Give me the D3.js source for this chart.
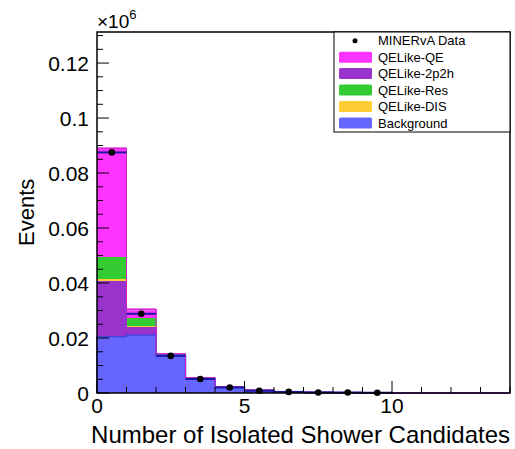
<!DOCTYPE html>
<html><head><meta charset="utf-8">
<script src="https://cdn.jsdelivr.net/npm/d3@7"></script>
<style>body{margin:0;background:#fff}svg{display:block}text{font-family:"Liberation Sans",Arial,sans-serif;fill:#000}</style>
</head><body><svg id="c" width="515" height="449"></svg>
<script>
const binEdges = [0,1,2,3,4,5,6,7,8,9,10,11,12,13,14];
const background = [0.0205,0.0211,0.0138,0.0054,0.0022,0.0010,0.0004,0.0002,0.0001,0.0001,0,0,0,0];
const twoP2h     = [0.0202,0.0030,0.0002,0.0001,0,0,0,0,0,0,0,0,0,0];
const dis        = [0.0008,0.0004,0.0000,0,0,0,0,0,0,0,0,0,0,0];
const res        = [0.0080,0.0029,0.0001,0,0,0,0,0,0,0,0,0,0,0];
const qe         = [0.0395,0.0030,0.0002,0.0001,0.0001,0.0001,0,0,0,0,0,0,0,0];
const dataVals   = [0.0875,0.0288,0.0135,0.0051,0.0020,0.0008,0.0004,0.0002,0.0002,0.0001];
const yTicks = [0,0.02,0.04,0.06,0.08,0.1,0.12];
const xTicks = [0,5,10];
const legendLabels = ["MINERvA Data","QELike-QE","QELike-2p2h","QELike-Res","QELike-DIS","Background"];
const colors = {bg:"#6666ff",p2h:"#9933cc",res:"#33cc33",dis:"#ffcc33",qe:"#ff33ff"};

const L=97,R=510,T=32,B=393;
const svg=d3.select("#c");
const x=d3.scaleLinear().domain([0,14]).range([L,R]);
const y=d3.scaleLinear().domain([0,0.1313]).range([B,T]);

// stacks
const layers=[[background,colors.bg],[twoP2h,colors.p2h],[dis,colors.dis],[res,colors.res],[qe,colors.qe]];
const cum=new Array(14).fill(0);
const g=svg.append("g").attr("shape-rendering","crispEdges");
layers.forEach(([vals,col])=>{
  vals.forEach((v,i)=>{
    if(v<=0) return;
    g.append("rect").attr("x",x(binEdges[i])).attr("width",x(binEdges[i+1])-x(binEdges[i])+0.6)
      .attr("y",y(cum[i]+v)).attr("height",y(cum[i])-y(cum[i]+v)).attr("fill",col);
    cum[i]+=v;
  });
});
// error band at the top of total
cum.forEach((v,i)=>{
  if(v<=0) return;
  g.append("rect").attr("x",x(binEdges[i])).attr("width",x(binEdges[i+1])-x(binEdges[i]))
   .attr("y",y(v+0.0004)).attr("height",y(v-0.0004)-y(v+0.0004)).attr("fill","#f070f0").attr("opacity",0.85);
});
// background outline
let bgPath="M"+x(0)+","+y(0);
background.forEach((v,i)=>{bgPath+="L"+x(binEdges[i])+","+y(v)+"L"+x(binEdges[i+1])+","+y(v);});
svg.append("path").attr("d",bgPath).attr("fill","none").attr("stroke","#4444dd").attr("stroke-width",1.5);
// total outline
let tPath="";
cum.forEach((v,i)=>{tPath+=(i?"L":"M")+x(binEdges[i])+","+y(v)+"L"+x(binEdges[i+1])+","+y(v);});
svg.append("path").attr("d",tPath).attr("fill","none").attr("stroke","#cc22cc").attr("stroke-width",1);

// data
dataVals.forEach((v,i)=>{
  svg.append("line").attr("x1",x(binEdges[i])).attr("x2",x(binEdges[i+1])).attr("y1",y(v)).attr("y2",y(v))
    .attr("stroke","#1a1aa0").attr("stroke-width",2);
  svg.append("circle").attr("cx",x(binEdges[i]+0.5)).attr("cy",y(v)).attr("r",3.3).attr("fill","#000");
});

// frame
svg.append("rect").attr("x",L).attr("y",T).attr("width",R-L).attr("height",B-T).attr("fill","none").attr("stroke","#000").attr("stroke-width",1.5);

// y ticks
for(let k=0;k<=26;k++){
  const v=k*0.005; const major=k%4===0;
  svg.append("line").attr("x1",L).attr("x2",L+(major?12:6)).attr("y1",y(v)).attr("y2",y(v)).attr("stroke","#000");
}
yTicks.forEach(v=>svg.append("text").attr("x",89).attr("y",y(v)+7.5).attr("text-anchor","end").attr("font-size",21).text(v===0?"0":String(v)));
// x ticks
for(let k=0;k<=14;k++){
  const major=k%5===0;
  svg.append("line").attr("x1",x(k)).attr("x2",x(k)).attr("y1",B).attr("y2",B-(major?12:6)).attr("stroke","#000");
}
xTicks.forEach(v=>svg.append("text").attr("x",x(v)).attr("y",413).attr("text-anchor","middle").attr("font-size",21).text(String(v)));

// titles
svg.append("text").attr("x",510).attr("y",443).attr("text-anchor","end").attr("font-size",24).text("Number of Isolated Shower Candidates");
svg.append("text").attr("transform","translate(34,246) rotate(-90)").attr("font-size",22).text("Events");
const sc=svg.append("text").attr("x",97).attr("y",28).attr("font-size",19);
sc.append("tspan").text("×10");
sc.append("tspan").attr("dy",-9).attr("font-size",13).text("6");

// legend
svg.append("rect").attr("x",334).attr("y",T).attr("width",R-334).attr("height",100).attr("fill","#fff").attr("stroke","#000").attr("stroke-width",1);
const swCols=[null,colors.qe,colors.p2h,colors.res,colors.dis,colors.bg];
legendLabels.forEach((lab,i)=>{
  const cy=40.7+i*16.45;
  if(i===0) svg.append("circle").attr("cx",355).attr("cy",cy).attr("r",2.5).attr("fill","#000");
  else svg.append("rect").attr("x",339).attr("y",cy-5.5).attr("width",33).attr("height",11).attr("rx",1.5).attr("fill",swCols[i]);
  svg.append("text").attr("x",378).attr("y",cy+4.6).attr("font-size",13).text(lab);
});
</script></body></html>
